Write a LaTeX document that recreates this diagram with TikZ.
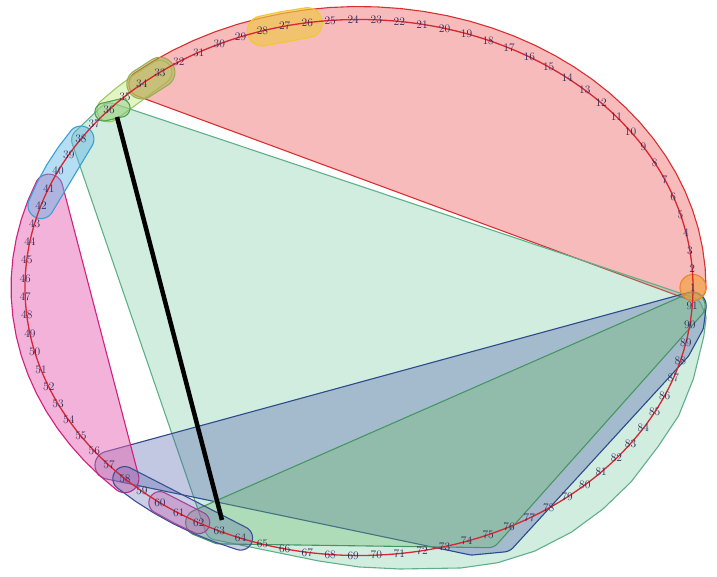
\documentclass[tikz,border=0pt]{standalone}
\usepackage{tikz}
\definecolor{cRing}{RGB}{214,39,50}
\definecolor{cLbl}{RGB}{50,40,90}
\definecolor{cRedF}{RGB}{238,85,85}\definecolor{cRedD}{RGB}{214,39,40}
\definecolor{cTealF}{RGB}{102,194,153}\definecolor{cTealD}{RGB}{95,176,138}
\definecolor{cNavyF}{RGB}{80,96,168}\definecolor{cNavyD}{RGB}{44,74,140}
\definecolor{cLimeF}{RGB}{110,190,110}\definecolor{cLimeD}{RGB}{70,150,100}
\definecolor{cPinkF}{RGB}{231,102,181}\definecolor{cPinkD}{RGB}{208,32,127}
\definecolor{cBlueF}{RGB}{90,180,230}\definecolor{cBlueD}{RGB}{58,159,213}
\definecolor{cCapD}{RGB}{60,80,150}
\definecolor{cPurF}{RGB}{190,90,170}\definecolor{cPurD}{RGB}{160,70,150}
\definecolor{cYelF}{RGB}{240,200,70}\definecolor{cYelD}{RGB}{240,200,50}
\definecolor{cOliF}{RGB}{170,170,70}\definecolor{cOliD}{RGB}{150,175,80}
\definecolor{cLgF}{RGB}{200,235,140}\definecolor{cLgD}{RGB}{160,200,100}
\definecolor{cGcF}{RGB}{120,190,120}\definecolor{cGcD}{RGB}{80,160,80}
\definecolor{cOrF}{RGB}{245,160,60}\definecolor{cOrD}{RGB}{240,130,40}
% padded convex hull by support function sampling
\newcommand\hullpts[3]{%
  \gdef\hp{}%
  \foreach \hA in {0,3,...,357}{%
    \pgfmathsetmacro\ca{cos(\hA)}%
    \pgfmathsetmacro\sa{sin(\hA)}%
    \gdef\best{-9999}%
    \def\tmplist{#1}%
    \ifx\tmplist\empty\else
      \foreach \i in {#1}{%
        \edef\cx{\csname ex\i\endcsname}\edef\cy{\csname ey\i\endcsname}%
        \pgfmathsetmacro\dd{\cx*\ca+\cy*\sa}%
        \ifdim\dd pt>\best pt\relax
          \xdef\best{\dd}\xdef\bx{\cx}\xdef\by{\cy}%
        \fi}%
    \fi
    \def\tmplist{#2}%
    \ifx\tmplist\empty\else
      \foreach \vx/\vy in {#2}{%
        \pgfmathsetmacro\dd{\vx*\ca+\vy*\sa}%
        \ifdim\dd pt>\best pt\relax
          \xdef\best{\dd}\xdef\bx{\vx}\xdef\by{\vy}%
        \fi}%
    \fi
    \pgfmathsetmacro\px{\bx+#3*\ca}%
    \pgfmathsetmacro\py{\by+#3*\sa}%
    \xdef\hp{\hp(\px,\py)--}%
  }}
\newcommand\mkhull[4]{\hullpts{#2}{#3}{#4}\edef\tmpcmd{\noexpand\path[#1] \hp cycle;}\tmpcmd}
\tikzset{
  hullbase/.style={line width=1.1pt, line join=round},
  redhull/.style={hullbase, fill=cRedF, fill opacity=.4, draw=cRedD, draw opacity=.95},
  tealhull/.style={hullbase, fill=cTealF, fill opacity=.3, draw=cTealD},
  navyhull/.style={hullbase, fill=cNavyF, fill opacity=.35, draw=cNavyD},
  limehull/.style={hullbase, fill=cLimeF, fill opacity=.35, draw=cLimeD},
  pinkhull/.style={hullbase, fill=cPinkF, fill opacity=.5, draw=cPinkD},
  bluehull/.style={hullbase, fill=cBlueF, fill opacity=.45, draw=cBlueD},
  navycap/.style={hullbase, fill=cNavyF, fill opacity=.3, draw=cCapD},
  purcap/.style={hullbase, fill=cPurF, fill opacity=.35, draw=cPurD},
  yelcap/.style={hullbase, fill=cYelF, fill opacity=.65, draw=cYelD},
  olicap/.style={hullbase, fill=cOliF, fill opacity=.45, draw=cOliD},
  lgcap/.style={hullbase, fill=cLgF, fill opacity=.5, draw=cLgD},
  gccap/.style={hullbase, fill=cGcF, fill opacity=.35, draw=cGcD},
  orcap/.style={hullbase, fill=cOrF, fill opacity=.65, draw=cOrD},
  blackedge/.style={line width=4.5pt, black},
  redring/.style={draw=cRing, line width=1.3pt},
  lbl/.style={font=\fontsize{11.5}{13}\selectfont, text=cLbl, inner sep=0pt}
}
\begin{document}
\begin{tikzpicture}[x=1pt,y=-1pt]
\useasboundingbox (0,0) rectangle (717,577);
\foreach \i in {1,...,91}{%
  \pgfmathsetmacro\tx{359+334*cos((\i-1)*3.956044)}%
  \pgfmathsetmacro\ty{287.5-268*sin((\i-1)*3.956044)}%
  \expandafter\xdef\csname ex\i\endcsname{\tx}%
  \expandafter\xdef\csname ey\i\endcsname{\ty}}
% hulls
\mkhull{redhull}{1,...,34}{}{13}
\mkhull{tealhull}{}{110/115, 83.7/140, 217/528, 243.6/529.6, 282/540, 320/549, 360/555, 400/557, 460/556, 495/551, 530/540, 565/522, 595/500, 622/474, 648/440, 668/410, 682/375, 692/334, 694/318, 690/309}{12}
\mkhull{navyhull}{57,90,91}{472/541, 503/538, 677/348}{14}
\mkhull{limehull}{62,63,75,91}{}{13}
\mkhull{pinkhull}{41,...,58}{}{14}
\mkhull{bluehull}{38,...,42}{}{13}
\mkhull{navycap}{58,...,64}{}{12}
\mkhull{purcap}{60,61,62}{}{11}
\mkhull{yelcap}{26,27,28}{}{15}
\mkhull{lgcap}{33,...,36}{}{12}
\mkhull{olicap}{33,34}{}{15}
\mkhull{gccap}{}{104/112, 121/108}{9}
\mkhull{orcap}{1}{}{13}
% black edge
\coordinate (b36) at (117,117);
\coordinate (b63) at (222,520);
\draw[blackedge] (b36) -- (b63);
% ring
\draw[redring] (359,287.5) ellipse[x radius=334pt, y radius=268pt];
% labels
\foreach \i in {1,...,91}{%
  \node[lbl] (n\i) at (\csname ex\i\endcsname,\csname ey\i\endcsname) {\i};}
\end{tikzpicture}
\end{document}
